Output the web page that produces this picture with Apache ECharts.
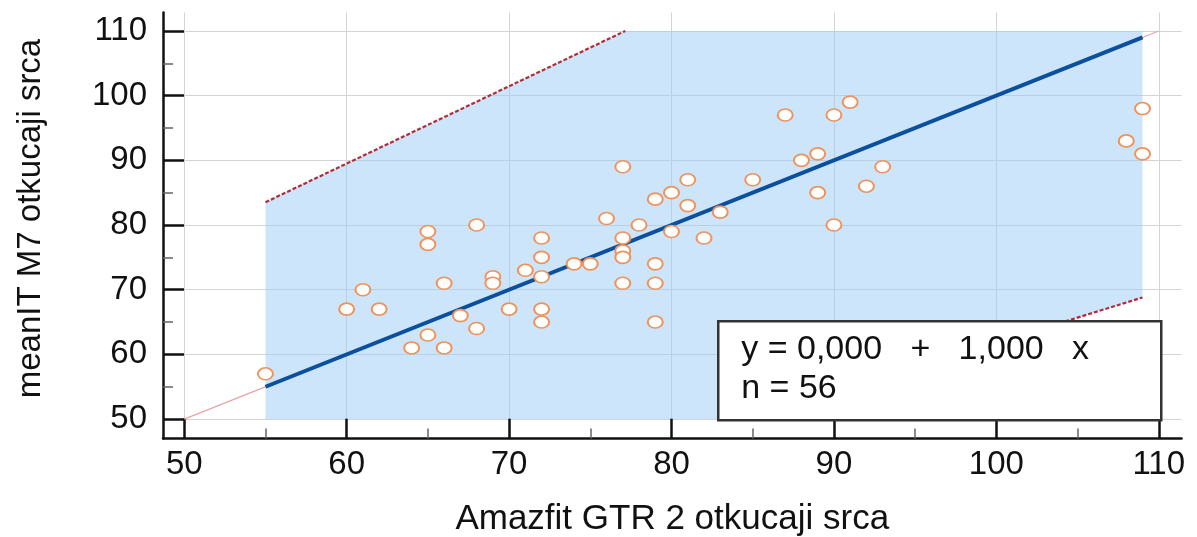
<!DOCTYPE html>
<html><head><meta charset="utf-8">
<script src="https://cdn.jsdelivr.net/npm/echarts@6/dist/echarts.min.js"></script>
<style>html,body{margin:0;padding:0;background:#fff}#c{width:1197px;height:537px}</style>
</head><body><div id="c"></div>
<script>
// ---- data ----
const xTicks = [50, 60, 70, 80, 90, 100, 110];
const yTicks = [50, 60, 70, 80, 90, 100, 110];
const xMinorTicks = [55, 65, 75, 85, 95, 105];
const yMinorTicks = [55, 65, 75, 85, 95, 105];
const pointsX = [55, 60, 61, 62, 64, 65, 65, 65, 66, 66, 67, 68, 68, 69, 69, 70, 71,
  72, 72, 72, 72, 72, 74, 75, 76, 77, 77, 77, 77, 77, 78, 79, 79, 79, 79, 80, 80,
  81, 81, 82, 83, 85, 87, 88, 89, 89, 90, 90, 91, 92, 93, 108, 109, 109];
const pointsY = [57, 67, 70, 67, 61, 79, 77, 63, 71, 61, 66, 80, 64, 72, 71, 67, 73,
  78, 75, 72, 67, 65, 74, 74, 81, 89, 78, 76, 75, 71, 80, 84, 74, 71, 65, 85, 79,
  87, 83, 78, 82, 87, 97, 90, 91, 85, 97, 80, 99, 86, 89, 93, 98, 91];
const fitIntercept = 0.0;
const fitSlope = 1.0;
const fitRange = [55, 109];
const identityRange = [50, 110];
const upperCI = { intercept: 17.8, slope: 1.195 };
const lowerCI = { intercept: -16.0, slope: 0.778 };
const clipY = [50, 110];
const boxLines = ['y = 0,000   +   1,000   x', 'n = 56'];
const xTitle = 'Amazfit GTR 2 otkucaji srca';
const yTitle = 'meanIT M7 otkucaji srca';

// ---- derived ----
const FONT = '"Liberation Sans", Arial, sans-serif';
const U = x => upperCI.intercept + upperCI.slope * x;
const L = x => lowerCI.intercept + lowerCI.slope * x;
const F = x => fitIntercept + fitSlope * x;
function ciSegment(fn, ci) {
  let x0 = fitRange[0], x1 = fitRange[1];
  const xa = (clipY[0] - ci.intercept) / ci.slope, xb = (clipY[1] - ci.intercept) / ci.slope;
  x0 = Math.max(x0, Math.min(xa, xb)); x1 = Math.min(x1, Math.max(xa, xb));
  return [[x0, fn(x0)], [x1, fn(x1)]];
}
const breaks = [fitRange[0], fitRange[1],
  (clipY[0] - lowerCI.intercept) / lowerCI.slope, (clipY[1] - upperCI.intercept) / upperCI.slope]
  .filter(x => x >= fitRange[0] && x <= fitRange[1]).sort((a, b) => a - b);
const bottomPts = breaks.map(x => [x, Math.max(clipY[0], L(x))]);
const topPts = breaks.slice().reverse().map(x => [x, Math.min(clipY[1], U(x))]);
const bandPoly = bottomPts.concat(topPts);
const scatterData = pointsX.map((x, i) => [x, pointsY[i]]);

const xMin = 48.69, xMax = 111.4, yMin = 47.0, yMax = 112.85;

const chart = echarts.init(document.getElementById('c'));
chart.setOption({
  animation: false,
  backgroundColor: '#fff',
  grid: { left: 163, right: 15.5, top: 12.5, bottom: 98.5, containLabel: false, outerBoundsMode: 'none' },
  xAxis: [{
    type: 'value', min: xMin, max: xMax,
    name: xTitle, nameLocation: 'middle', nameGap: 63,
    nameTextStyle: { fontFamily: FONT, fontSize: 35, color: '#111' },
    axisLine: { show: true, lineStyle: { color: '#111', width: 2.5 } },
    axisTick: { show: true, inside: true, length: 20, customValues: xTicks, lineStyle: { color: '#111', width: 2.5 } },
    axisLabel: { show: true, customValues: xTicks, margin: 10, fontFamily: FONT, fontSize: 33, color: '#111' },
    splitLine: { show: true, lineStyle: { color: '#d4d4d4', width: 1 } }
  }, {
    type: 'value', min: xMin, max: xMax, position: 'bottom',
    axisLine: { show: false },
    axisTick: { show: true, inside: true, length: 10, customValues: xMinorTicks, lineStyle: { color: '#666', width: 1.5 } },
    axisLabel: { show: false }, splitLine: { show: false }
  }],
  yAxis: [{
    type: 'value', min: yMin, max: yMax,
    name: yTitle, nameLocation: 'middle', nameGap: 116,
    nameTextStyle: { fontFamily: FONT, fontSize: 33, color: '#111', padding: [0, 0, 0, 14] },
    axisLine: { show: true, lineStyle: { color: '#111', width: 2.5 } },
    axisTick: { show: true, inside: true, length: 21, customValues: yTicks, lineStyle: { color: '#111', width: 2.5 } },
    axisLabel: { show: true, customValues: yTicks, margin: 16, fontFamily: FONT, fontSize: 33, color: '#111' },
    splitLine: { show: true, lineStyle: { color: '#d4d4d4', width: 1 } }
  }, {
    type: 'value', min: yMin, max: yMax, position: 'left',
    axisLine: { show: false },
    axisTick: { show: true, inside: true, length: 10, customValues: yMinorTicks, lineStyle: { color: '#666', width: 1.5 } },
    axisLabel: { show: false }, splitLine: { show: false }
  }],
  series: [
    {
      type: 'custom', z: 1, silent: true,
      data: [bandPoly[0]],
      renderItem: function (params, api) {
        return { type: 'polygon', shape: { points: bandPoly.map(p => api.coord(p)) },
          style: { fill: 'rgba(153,204,248,0.5)' } };
      }
    },
    {
      type: 'line', z: 2, symbol: 'none', silent: true,
      data: identityRange.map(x => [x, x]),
      lineStyle: { color: '#e8a3a8', width: 1.2 }
    },
    {
      type: 'line', z: 3, symbol: 'none', silent: true,
      data: ciSegment(U, upperCI),
      lineStyle: { color: '#b52b35', width: 2.2, type: [4, 2] }
    },
    {
      type: 'line', z: 3, symbol: 'none', silent: true,
      data: ciSegment(L, lowerCI),
      lineStyle: { color: '#b52b35', width: 2.2, type: [4, 2] }
    },
    {
      type: 'line', z: 4, symbol: 'none', silent: true,
      data: fitRange.map(x => [x, F(x)]),
      lineStyle: { color: '#0b4f9d', width: 4 }
    },
    {
      type: 'scatter', z: 5, symbol: 'circle', symbolSize: [15, 12],
      data: scatterData,
      itemStyle: { color: '#ffffff', borderColor: '#f0925a', borderWidth: 1.8, opacity: 1 }
    }
  ],
  graphic: [{
    type: 'group', left: 717, top: 320, z: 100,
    children: [
      { type: 'rect', z: 100, shape: { x: 0, y: 0, width: 443, height: 99 },
        style: { fill: '#fff', stroke: '#333', lineWidth: 2.5 } },
      { type: 'text', z: 101, x: 23, y: 8.5,
        style: { text: boxLines.join('\n'), font: '34px ' + FONT, lineHeight: 39, fill: '#111' } }
    ]
  }]
});
</script></body></html>
